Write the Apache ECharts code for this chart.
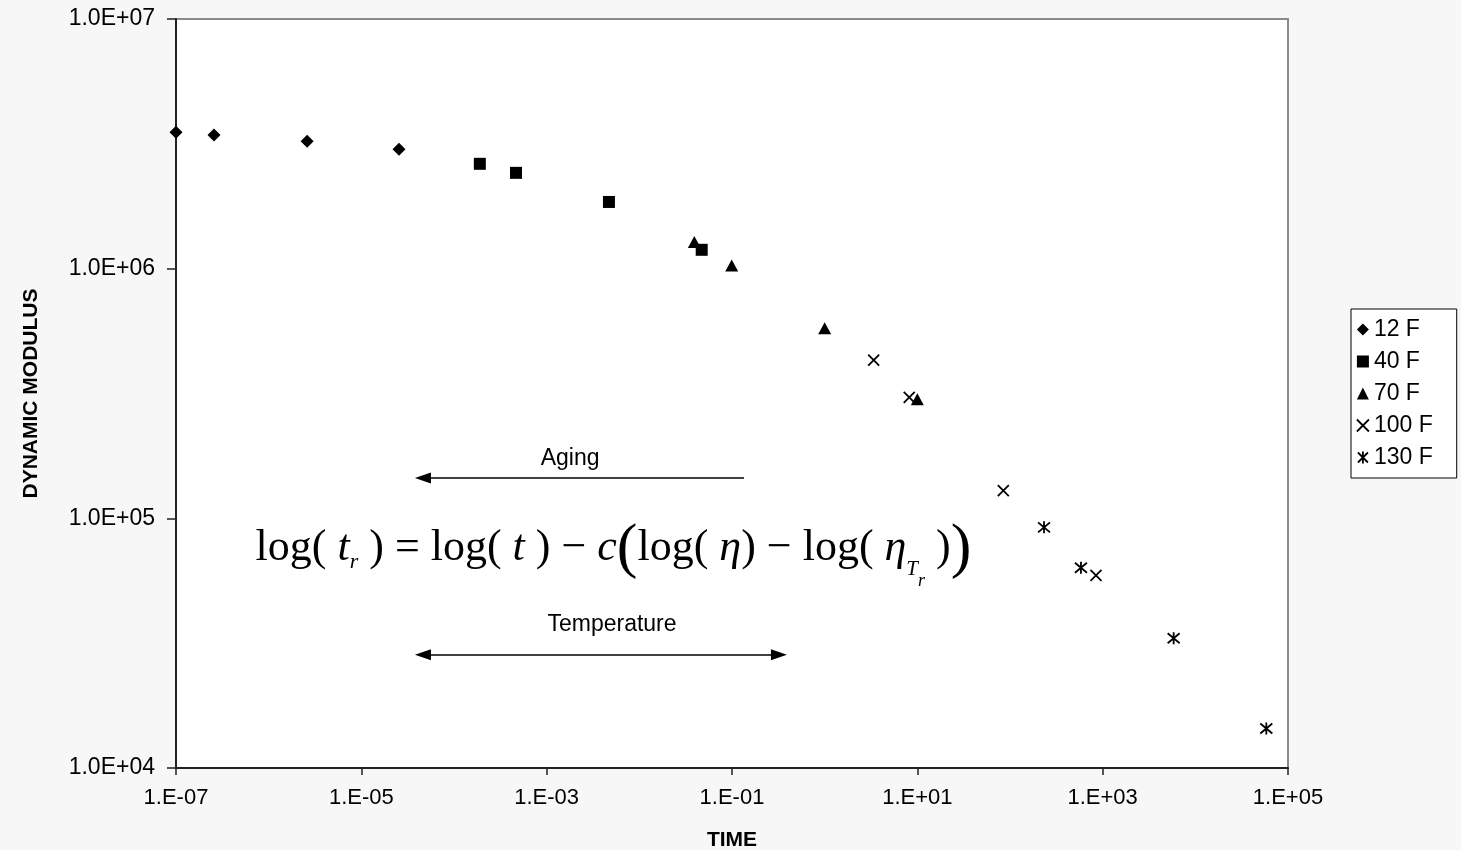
<!DOCTYPE html>
<html>
<head>
<meta charset="utf-8">
<script src="https://cdn.jsdelivr.net/npm/echarts@6/dist/echarts.min.js"></script>
<style>html,body{margin:0;padding:0;background:#f7f7f7;}#c{width:1461px;height:850px;}</style>
</head>
<body>
<div id="c"></div>
<script>
// ---- data ----
const seriesNames = ['12 F', '40 F', '70 F', '100 F', '130 F'];
const time12 = [1e-7, 2.57e-7, 2.6e-6, 2.55e-5];
const mod12 = [3.52e6, 3.43e6, 3.24e6, 3.01e6];
const time40 = [1.9e-4, 4.67e-4, 4.7e-3, 0.0471];
const mod40 = [2.63e6, 2.42e6, 1.85e6, 1.19e6];
const time70 = [0.0392, 0.0993, 1.0, 10];
const mod70 = [1.28e6, 1.03e6, 5.77e5, 3.0e5];
const time100 = [3.38, 8.18, 84.7, 847];
const mod100 = [4.3e5, 3.05e5, 1.29e5, 5.91e4];
const time130 = [233, 583, 5834, 58340];
const mod130 = [9.2e4, 6.34e4, 3.31e4, 1.44e4];
const xTicks = [1e-7, 1e-5, 1e-3, 1e-1, 1e1, 1e3, 1e5];
const yTicks = [1e4, 1e5, 1e6, 1e7];
// annotation anchors (data space)
const agingArrow = [[4.62e-5, 1.45e5], [0.1346, 1.45e5]];
const tempArrow = [[4.62e-5, 2.84e4], [0.321, 2.84e4]];
const agingLabelAt = [1.79e-3, 1.73e5];
const tempLabelAt = [5.07e-3, 3.75e4];
const eqAt = [5.26e-3, 7.6e4];

const sans = '"Liberation Sans", Arial, sans-serif';
const serif = '"Liberation Serif", "Times New Roman", serif';

function zip(xs, ys) { return xs.map((x, i) => [x, ys[i]]); }
function pad2(n) { return String(Math.abs(n)).padStart(2, '0'); }

const crossPath = 'path://M0,0L10,10M10,0L0,10';
const starPath = 'path://M1,2L11,12M11,2L1,12M6,1L6,13';

const symbols = ['diamond', 'rect', 'triangle', crossPath, starPath];
const sizes = [13, 12, [13, 12], 11, 12];
const dataSets = [zip(time12, mod12), zip(time40, mod40), zip(time70, mod70), zip(time100, mod100), zip(time130, mod130)];

const strokeStyle = { color: 'rgba(0,0,0,0)', borderColor: '#000', borderWidth: 1.8, opacity: 1 };

const series = seriesNames.map((name, i) => {
  const stroke = i >= 3;
  return {
    name: name,
    type: 'scatter',
    data: dataSets[i],
    symbol: symbols[i],
    symbolSize: sizes[i],
    itemStyle: stroke ? strokeStyle : { color: '#000', opacity: 1 },
    emphasis: { disabled: true },
    z: 3
  };
});

const LH = 120;
const eqRich = {
  n: { fontFamily: serif, fontSize: 44, color: '#000', lineHeight: LH },
  i: { fontFamily: serif, fontSize: 44, fontStyle: 'italic', color: '#000', lineHeight: LH },
  s: { fontFamily: serif, fontSize: 22, fontStyle: 'italic', color: '#000', lineHeight: LH, padding: [28, 0, 0, 0] },
  T: { fontFamily: serif, fontSize: 21, fontStyle: 'italic', color: '#000', lineHeight: LH, padding: [42, 0, 0, 0] },
  r: { fontFamily: serif, fontSize: 18, fontStyle: 'italic', color: '#000', lineHeight: LH, padding: [66, 0, 0, 0] },
  b: { fontFamily: serif, fontSize: 62, color: '#000', lineHeight: LH, padding: [3, 0, 0, 0] }
};
const eqText = '{n|log( }{i|t}{s|r}{n| ) = log( }{i|t}{n| ) − }{i|c}{b|(}{n|log( }{i|η}{n|) − log( }{i|η}{T|T}{r|r}{n| )}{b|)}';

series.push({
  name: 'annotations',
  type: 'scatter',
  data: [],
  silent: true,
  markLine: {
    silent: true,
    animation: false,
    symbol: ['none', 'none'],
    symbolSize: [11, 16],
    lineStyle: { color: '#000', width: 1.5, type: 'solid' },
    label: { show: false },
    emphasis: { disabled: true },
    data: [
      [{ coord: agingArrow[0], symbol: 'triangle' }, { coord: agingArrow[1], symbol: 'none' }],
      [{ coord: tempArrow[0], symbol: 'triangle' }, { coord: tempArrow[1], symbol: 'triangle' }]
    ]
  },
  markPoint: {
    silent: true,
    animation: false,
    symbol: 'circle',
    symbolSize: 1,
    itemStyle: { color: 'rgba(0,0,0,0)' },
    label: { show: true, position: 'inside', color: '#000' },
    data: [
      { coord: agingLabelAt, label: { formatter: 'Aging', fontFamily: sans, fontSize: 23, color: '#000' } },
      { coord: tempLabelAt, label: { formatter: 'Temperature', fontFamily: sans, fontSize: 23, color: '#000' } },
      { coord: eqAt, label: { formatter: eqText, rich: eqRich } }
    ]
  }
});

const chart = echarts.init(document.getElementById('c'), null, { renderer: 'canvas' });
chart.setOption({
  animation: false,
  backgroundColor: '#f7f7f7',
  grid: {
    left: 176, right: 173, top: 19, bottom: 82,
    outerBoundsMode: 'none',
    containLabel: false,
    show: true, backgroundColor: '#fff', borderColor: '#8a8a8a', borderWidth: 2
  },
  legend: {
    orient: 'vertical',
    left: 1351, top: 309,
    backgroundColor: '#fff',
    borderColor: '#000', borderWidth: 1,
    padding: [9, 24, 9, 5],
    itemWidth: 12, itemHeight: 12, itemGap: 9,
    selectedMode: false,
    textStyle: { fontFamily: sans, fontSize: 23, color: '#000', lineHeight: 23 },
    data: [
      { name: '12 F' }, { name: '40 F' }, { name: '70 F' },
      { name: '100 F', itemStyle: strokeStyle },
      { name: '130 F', itemStyle: strokeStyle }
    ]
  },
  xAxis: {
    type: 'log', logBase: 10, min: 1e-7, max: 1e5,
    name: 'TIME', nameLocation: 'middle', nameGap: 62,
    nameTextStyle: { fontFamily: sans, fontSize: 21, fontWeight: 'bold', color: '#000' },
    axisLine: { show: true, onZero: false, lineStyle: { color: '#222', width: 2 } },
    axisTick: { show: true, length: 7, customValues: xTicks, lineStyle: { color: '#222', width: 1.5 } },
    minorTick: { show: false },
    splitLine: { show: false },
    axisLabel: {
      margin: 19, customValues: xTicks,
      fontFamily: sans, fontSize: 22, color: '#000',
      formatter: v => { const e = Math.round(Math.log10(v)); return '1.E' + (e < 0 ? '-' : '+') + pad2(e); }
    }
  },
  yAxis: {
    type: 'log', logBase: 10, min: 1e4, max: 1e7,
    name: 'DYNAMIC MODULUS', nameLocation: 'middle', nameGap: 134,
    nameTextStyle: { fontFamily: sans, fontSize: 21, fontWeight: 'bold', color: '#000' },
    axisLine: { show: true, onZero: false, lineStyle: { color: '#222', width: 2 } },
    axisTick: { show: true, length: 9, customValues: yTicks, lineStyle: { color: '#222', width: 1.5 } },
    minorTick: { show: false },
    splitLine: { show: false },
    axisLabel: {
      margin: 21, customValues: yTicks,
      fontFamily: sans, fontSize: 23, color: '#000',
      formatter: v => { const e = Math.round(Math.log10(v)); return '1.0E' + (e < 0 ? '-' : '+') + pad2(e); }
    }
  },
  series: series
});
</script>
</body>
</html>
